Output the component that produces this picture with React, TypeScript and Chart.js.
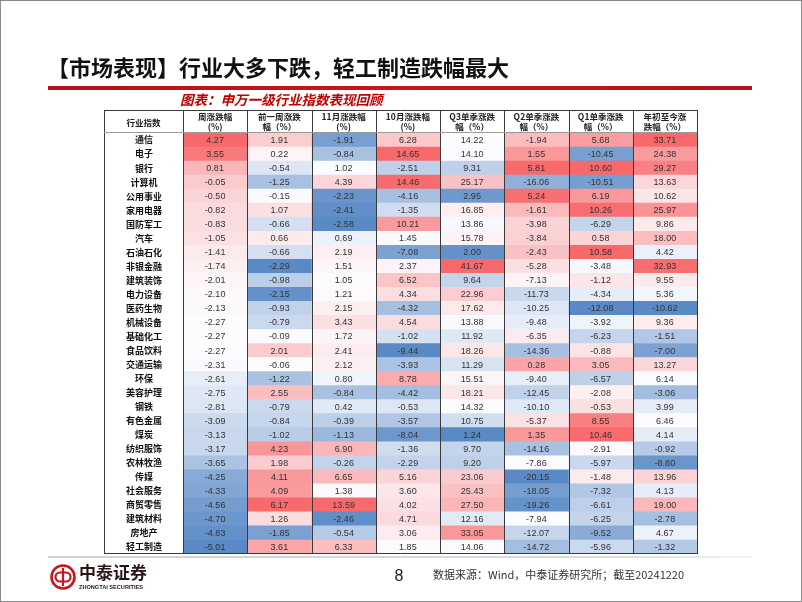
import React, { useEffect, useRef } from "react";
import { Chart, registerables } from "chart.js";

Chart.register(...registerables);

// ---------- data ----------
const industries = [
  "通信", "电子", "银行", "计算机", "公用事业", "家用电器", "国防军工", "汽车", "石油石化", "非银金融",
  "建筑装饰", "电力设备", "医药生物", "机械设备", "基础化工", "食品饮料", "交通运输", "环保", "美容护理", "钢铁",
  "有色金属", "煤炭", "纺织服饰", "农林牧渔", "传媒", "社会服务", "商贸零售", "建筑材料", "房地产", "轻工制造",
];

const weekChg = [4.27, 3.55, 0.81, -0.05, -0.50, -0.82, -0.83, -1.05, -1.41, -1.74, -2.01, -2.10, -2.13, -2.27, -2.27, -2.27, -2.31, -2.61, -2.75, -2.81, -3.09, -3.13, -3.17, -3.65, -4.25, -4.33, -4.56, -4.70, -4.83, -5.01];
const prevWeekChg = [1.91, 0.22, -0.54, -1.25, -0.15, 1.07, -0.66, 0.66, -0.66, -2.29, -0.98, -2.15, -0.93, -0.79, -0.09, 2.01, -0.06, -1.22, 2.55, -0.79, -0.84, -1.02, 4.23, 1.98, 4.11, 4.09, 6.17, 1.26, -1.85, 3.61];
const novChg = [-1.91, -0.84, 1.02, 4.39, -2.23, -2.41, -2.58, 0.69, 2.19, 1.51, 1.05, 1.21, 2.15, 3.43, 1.72, 2.41, 2.12, 0.80, -0.84, 0.42, -0.39, -1.13, 6.90, -0.26, 6.65, 1.38, 13.59, -2.46, -0.54, 6.33];
const octChg = [6.28, 14.65, -2.51, 14.46, -4.16, -1.35, 10.21, 1.45, -7.08, 2.37, 6.52, 4.34, -4.32, 4.54, -1.02, -9.44, -3.93, 8.78, -4.42, -0.53, -3.57, -8.04, -1.36, -2.29, 5.16, 3.60, 4.02, 4.71, 3.06, 1.85];
const q3Chg = [14.22, 14.10, 9.31, 25.17, 2.95, 16.85, 13.86, 15.78, 2.00, 41.67, 9.64, 22.96, 17.62, 13.88, 11.92, 18.26, 11.29, 15.51, 18.21, 14.32, 10.75, 1.24, 9.70, 9.20, 23.06, 25.43, 27.50, 12.16, 33.05, 14.06];
const q2Chg = [-1.94, 1.55, 5.81, -16.06, 5.24, -1.61, -3.98, -3.84, -2.43, -5.28, -7.13, -11.73, -10.25, -9.48, -6.35, -14.36, 0.28, -9.40, -12.45, -10.10, -5.37, 1.35, -14.16, -7.86, -20.15, -18.05, -19.26, -7.94, -12.07, -14.72];
const q1Chg = [5.68, -10.45, 10.60, -10.51, 6.19, 10.26, -6.29, 0.58, 10.58, -3.48, -1.12, -4.34, -12.08, -3.92, -6.23, -0.88, 3.05, -6.57, -2.08, -0.53, 8.55, 10.46, -2.91, -5.97, -1.48, -7.32, -6.61, -6.25, -9.52, -5.96];
const ytdChg = [33.71, 24.38, 29.27, 13.63, 10.62, 25.97, 9.86, 18.00, 4.42, 32.93, 9.55, 5.36, -10.62, 9.36, -1.51, -7.00, 13.27, 6.14, -3.06, 3.99, 6.46, 4.14, -0.92, -8.80, 13.96, 4.13, 19.00, -2.78, 4.67, -1.32];

const columnHeaders: string[][] = [
  ["周涨跌幅", "(%)"],
  ["前一周涨跌", "幅（%）"],
  ["11月涨跌幅", "(%)"],
  ["10月涨跌幅", "(%)"],
  ["Q3单季涨跌", "幅（%）"],
  ["Q2单季涨跌", "幅（%）"],
  ["Q1单季涨跌", "幅（%）"],
  ["年初至今涨", "跌幅（%）"],
];
const labelHeader = "行业指数";

const titleText = "【市场表现】行业大多下跌，轻工制造跌幅最大";
const subtitleText = "图表：申万一级行业指数表现回顾";
const sourceText = "数据来源：Wind，中泰证券研究所；截至20241220";
const pageNumber = "8";

const columns = [weekChg, prevWeekChg, novChg, octChg, q3Chg, q2Chg, q1Chg, ytdChg];

// ---------- colour scale (min blue / median white / max red) ----------
const RED = [248, 105, 107];
const WHITE = [252, 252, 255];
const BLUE = [90, 138, 198];

function mix(a: number[], b: number[], t: number) {
  const c = a.map((v, i) => Math.round(v + (b[i] - v) * t));
  return `rgb(${c[0]},${c[1]},${c[2]})`;
}

function colorsFor(arr: number[]) {
  const s = [...arr].sort((a, b) => a - b);
  const n = s.length;
  const min = s[0];
  const max = s[n - 1];
  const pos = (n - 1) * 0.5;
  const lo = Math.floor(pos);
  const hi = Math.ceil(pos);
  const mid = s[lo] + (s[hi] - s[lo]) * (pos - lo);
  return arr.map((v) => {
    if (v >= mid) return mix(WHITE, RED, max === mid ? 0 : (v - mid) / (max - mid));
    return mix(WHITE, BLUE, mid === min ? 0 : (mid - v) / (mid - min));
  });
}

const CJK = '"Noto Sans CJK SC", sans-serif';

const decorPlugin = {
  id: "decor",
  beforeDraw(chart: any) {
    const ctx = chart.ctx as CanvasRenderingContext2D;
    ctx.save();
    ctx.fillStyle = "#ffffff";
    ctx.fillRect(0, 0, chart.width, chart.height);
    ctx.restore();
  },
  afterDraw(chart: any) {
    const ctx = chart.ctx as CanvasRenderingContext2D;
    const xs = chart.scales.x;
    const ys = chart.scales.y;
    const area = chart.chartArea;
    ctx.save();

    // cell values
    ctx.font = '9px "Liberation Sans", sans-serif';
    ctx.fillStyle = "#333333";
    ctx.textAlign = "center";
    ctx.textBaseline = "middle";
    columns.forEach((col, c) => {
      const cx = xs.getPixelForValue(c + 0.5);
      col.forEach((v, i) => {
        ctx.fillText(v.toFixed(2), cx, ys.getPixelForValue(i) + 0.5);
      });
    });

    // table borders
    const tableLeft = ys.left;
    const tableTop = xs.top;
    ctx.strokeStyle = "#3a3a3a";
    ctx.lineWidth = 1;
    ctx.beginPath();
    for (let c = 0; c <= columns.length; c++) {
      const x = Math.round(xs.getPixelForValue(c)) + 0.5;
      ctx.moveTo(x, tableTop);
      ctx.lineTo(x, area.bottom);
    }
    const lx = Math.round(tableLeft) + 0.5;
    ctx.moveTo(lx, tableTop);
    ctx.lineTo(lx, area.bottom);
    ctx.moveTo(tableLeft, Math.round(tableTop) + 0.5);
    ctx.lineTo(area.right, Math.round(tableTop) + 0.5);
    ctx.moveTo(tableLeft, Math.round(area.bottom) - 0.5);
    ctx.lineTo(area.right, Math.round(area.bottom) - 0.5);
    ctx.stroke();
    ctx.strokeStyle = "#9a9a9a";
    ctx.beginPath();
    ctx.moveTo(tableLeft, Math.round(area.top) - 0.5);
    ctx.lineTo(area.right, Math.round(area.top) - 0.5);
    ctx.stroke();

    // label header
    ctx.font = `bold 8.5px ${CJK}`;
    ctx.fillStyle = "#222";
    ctx.fillText(labelHeader, (tableLeft + area.left) / 2, (tableTop + area.top) / 2 + 1);

    // title
    ctx.textAlign = "left";
    ctx.font = `bold 22px ${CJK}`;
    ctx.fillStyle = "#111";
    ctx.fillText(titleText, 47, 68);

    // red rule
    const g = ctx.createLinearGradient(48, 0, 752, 0);
    g.addColorStop(0, "#b2141b");
    g.addColorStop(0.5, "#c8161d");
    g.addColorStop(1, "#b2141b");
    ctx.fillStyle = g;
    ctx.fillRect(48, 86, 704, 4);

    // subtitle
    ctx.font = `italic bold 13.5px ${CJK}`;
    ctx.fillStyle = "#c00000";
    ctx.fillText(subtitleText, 180, 100);

    // footer rule
    const g2 = ctx.createLinearGradient(48, 0, 752, 0);
    g2.addColorStop(0, "#d0d0d0");
    g2.addColorStop(0.8, "#dcdcdc");
    g2.addColorStop(1, "#f4f4f4");
    ctx.fillStyle = g2;
    ctx.fillRect(48, 556, 704, 2);

    // logo
    ctx.strokeStyle = "#c8161d";
    ctx.lineWidth = 2.6;
    ctx.beginPath();
    ctx.arc(63, 577, 11.5, 0, Math.PI * 2);
    ctx.stroke();
    ctx.lineWidth = 2.2;
    ctx.beginPath();
    ctx.arc(60, 577, 4.5, Math.PI * 0.5, Math.PI * 1.5);
    ctx.lineTo(66, 572.5);
    ctx.arc(66, 577, 4.5, -Math.PI * 0.5, Math.PI * 0.5);
    ctx.closePath();
    ctx.stroke();
    ctx.beginPath();
    ctx.moveTo(63, 568);
    ctx.lineTo(63, 586);
    ctx.stroke();
    ctx.font = `bold 17px ${CJK}`;
    ctx.fillStyle = "#2a1616";
    ctx.fillText("中泰证券", 79, 573);
    ctx.font = 'bold 5.6px "Liberation Sans", sans-serif';
    ctx.fillText("ZHONGTAI SECURITIES", 79, 587);

    // page number
    ctx.textAlign = "center";
    ctx.font = '16px "Liberation Sans Narrow", "Liberation Sans", sans-serif';
    ctx.fillStyle = "#222";
    ctx.fillText(pageNumber, 399, 577);

    // source
    ctx.textAlign = "left";
    ctx.font = `11px ${CJK}`;
    ctx.fillStyle = "#333";
    ctx.fillText(sourceText, 433, 575);

    // slide frame
    ctx.strokeStyle = "#8a8a8a";
    ctx.lineWidth = 1;
    ctx.strokeRect(0.5, 0.5, chart.width - 1, chart.height - 1);

    ctx.restore();
  },
};

export default function App() {
  const ref = useRef<HTMLCanvasElement>(null);
  useEffect(() => {
    document.body.style.margin = "0";
    const datasets = columns.map((col, c) => ({
      label: columnHeaders[c].join(""),
      data: industries.map(() => [c, c + 1]),
      backgroundColor: colorsFor(col),
      borderWidth: 0,
      barPercentage: 1,
      categoryPercentage: 1,
      grouped: false,
    }));
    const chart = new Chart(ref.current as HTMLCanvasElement, {
      type: "bar",
      data: { labels: industries, datasets: datasets as any },
      options: {
        indexAxis: "y",
        responsive: false,
        animation: false,
        devicePixelRatio: 1,
        layout: { padding: { left: 104, top: 110, right: 105, bottom: 48 } },
        plugins: { legend: { display: false }, tooltip: { enabled: false } },
        scales: {
          x: {
            type: "linear",
            position: "top",
            min: 0,
            max: columns.length,
            grid: { display: false, drawTicks: false },
            border: { display: false },
            afterBuildTicks: (scale: any) => {
              scale.ticks = columnHeaders.map((_, i) => ({ value: i + 0.5 }));
            },
            afterFit: (scale: any) => {
              scale.height = 23;
            },
            ticks: {
              autoSkip: false,
              maxRotation: 0,
              minRotation: 0,
              padding: 1,
              color: "#222",
              font: { family: CJK, size: 8.5, weight: "bold", lineHeight: 1.2 },
              callback: (_v: any, i: number) => columnHeaders[i],
            },
          },
          y: {
            type: "category",
            grid: { display: false, drawTicks: false },
            border: { display: false },
            afterFit: (scale: any) => {
              scale.width = 79;
            },
            ticks: {
              autoSkip: false,
              crossAlign: "center",
              padding: 21,
              color: "#111",
              font: { family: CJK, size: 9, weight: "bold" },
            },
          },
        },
      },
      plugins: [decorPlugin],
    });
    return () => chart.destroy();
  }, []);
  return (
    <canvas
      ref={ref}
      width={802}
      height={602}
      style={{ display: "block", width: 802, height: 602 }}
    />
  );
}
